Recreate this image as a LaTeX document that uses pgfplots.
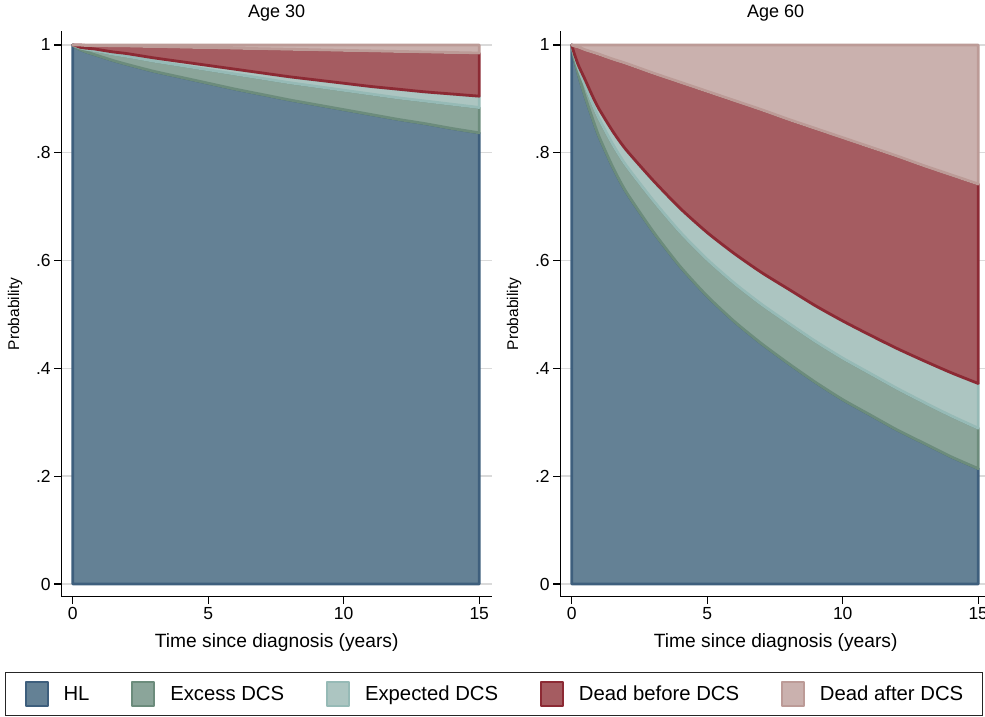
\documentclass[border=0pt]{standalone}
\usepackage{pgfplots}
\pgfplotsset{compat=1.18}
\usepackage{pgfplotstable}
\usepgfplotslibrary{fillbetween}
\usepackage{fontspec}
\setmainfont{Liberation Sans}

\definecolor{hlF}{RGB}{100,129,149}
\definecolor{hlL}{RGB}{62,95,125}
\definecolor{exF}{RGB}{139,165,154}
\definecolor{exL}{RGB}{108,140,124}
\definecolor{epF}{RGB}{172,197,193}
\definecolor{epL}{RGB}{150,186,182}
\definecolor{dbF}{RGB}{165,92,97}
\definecolor{dbL}{RGB}{140,42,52}
\definecolor{daF}{RGB}{202,177,174}
\definecolor{daL}{RGB}{188,155,151}
\definecolor{gridc}{RGB}{218,218,218}

\pgfplotstableread{
t b0 b1 b2 b3 b4 b5
0 0 1 1 1 1 1
0.1 0 .996 .998 .999 1.000 1
0.25 0 .992 .995 .996 1.000 1
0.5 0 .987 .992 .994 .999 1
0.75 0 .983 .990 .993 .999 1
1 0 .979 .988 .991 .999 1
1.5 0 .971 .983 .987 .998 1
2 0 .964 .979 .984 .998 1
3 0 .951 .970 .976 .997 1
4 0 .940 .962 .969 .996 1
5 0 .929 .954 .962 .995 1
6 0 .918 .946 .955 .994 1
7 0 .908 .938 .948 .993 1
8 0 .898 .930 .941 .992 1
9 0 .889 .923 .935 .991 1
10 0 .880 .916 .929 .990 1
11 0 .871 .909 .923 .989 1
12 0 .862 .902 .918 .988 1
13 0 .854 .896 .913 .987 1
14 0 .845 .890 .909 .986 1
15 0 .837 .884 .905 .985 1
}\ageA

\pgfplotstableread{
t b0 b1 b2 b3 b4 b5
0 0 1 1 1 1 1
0.1 0 .973 .980 .983 .998 1
0.25 0 .944 .956 .962 .996 1
0.5 0 .903 .924 .935 .991 1
0.75 0 .866 .893 .907 .987 1
1 0 .831 .864 .882 .983 1
1.5 0 .775 .817 .841 .974 1
2 0 .728 .777 .806 .966 1
3 0 .654 .712 .749 .948 1
4 0 .589 .653 .697 .931 1
5 0 .534 .602 .652 .914 1
6 0 .487 .558 .613 .897 1
7 0 .446 .519 .578 .880 1
8 0 .409 .484 .547 .862 1
9 0 .374 .450 .516 .845 1
10 0 .342 .419 .488 .828 1
11 0 .314 .391 .462 .811 1
12 0 .286 .363 .437 .794 1
13 0 .261 .337 .414 .776 1
14 0 .236 .312 .392 .759 1
15 0 .214 .289 .372 .742 1
}\ageB

\pgfplotsset{
  stataax/.style={
    scale only axis, width=430pt, height=565.2pt,
    xmin=-0.406, xmax=15.46, ymin=-0.0236, ymax=1.025,
    axis x line*=bottom, axis y line*=left,
    axis line style={line width=1.2pt, black, -},
    xtick={0,5,10,15}, xticklabels={0,5,10,15},
    ytick={0,0.2,0.4,0.6,0.8,1}, yticklabels={0,.2,.4,.6,.8,1},
    tick align=outside, major tick length=7.5pt,
    tick style={line width=1.2pt, black},
    ymajorgrids, grid style={line width=1.4pt, color=gridc},
    ticklabel style={font=\fontsize{17.5}{20}\selectfont},
    xlabel={Time since diagnosis (years)}, ylabel={Probability},
    xlabel style={at={(axis description cs:0.5,-0.0904)}, anchor=base, font=\fontsize{19.2}{22}\selectfont},
    ylabel style={at={(axis description cs:-0.1086,0.5)}, anchor=center, font=\fontsize{15.5}{18}\selectfont},
    title style={at={(axis description cs:0.5,1.015)}, anchor=base, font=\fontsize{18}{21}\selectfont},
  },
  band/.style 2 args={fill=#1, draw=#2, line width=2.8pt, line join=round},
  bd/.style={draw=none, forget plot, smooth, tension=0.4},
}
\newcommand{\lgs}{\rule[-4.3pt]{0pt}{18.9pt}}

\begin{document}
\begin{tikzpicture}
\begin{axis}[stataax, at={(61.7pt,120.3pt)}, anchor=south west, title={Age 30},
  legend columns=5,
  legend image code/.code={\draw[#1, line width=1.8pt] (1pt,-12pt) rectangle (23pt,12pt);},
  legend style={at={(axis description cs:1.00535,-0.17215)}, anchor=center,
    draw=black!85, line width=1pt, inner xsep=19pt, inner ysep=8.5pt,
    font=\fontsize{20.3}{24}\selectfont,
    nodes={inner sep=0pt},
    /tikz/every odd column/.append style={column sep=15pt},
    /tikz/every even column/.append style={column sep=42pt}},
  legend cell align=left]
\addlegendimage{band={hlF}{hlL}}\addlegendentry{\lgs HL}
\addlegendimage{band={exF}{exL}}\addlegendentry{\lgs Excess DCS}
\addlegendimage{band={epF}{epL}}\addlegendentry{\lgs Expected DCS}
\addlegendimage{band={dbF}{dbL}}\addlegendentry{\lgs Dead before DCS}
\addlegendimage{band={daF}{daL}}\addlegendentry{\lgs Dead after DCS}
\addplot[name path=a0, bd] table[x=t,y=b0]{\ageA};
\addplot[name path=a1, bd] table[x=t,y=b1]{\ageA};
\addplot[name path=a2, bd] table[x=t,y=b2]{\ageA};
\addplot[name path=a3, bd] table[x=t,y=b3]{\ageA};
\addplot[name path=a4, bd] table[x=t,y=b4]{\ageA};
\addplot[name path=a5, bd] table[x=t,y=b5]{\ageA};
\addplot[band={hlF}{hlL}] fill between[of=a0 and a1];
\addplot[band={exF}{exL}] fill between[of=a1 and a2];
\addplot[band={epF}{epL}] fill between[of=a2 and a3];
\addplot[band={dbF}{dbL}] fill between[of=a3 and a4];
\addplot[band={daF}{daL}] fill between[of=a4 and a5];
\end{axis}
\begin{axis}[stataax, at={(560.7pt,120.3pt)}, anchor=south west, title={Age 60}]
\addplot[name path=c0, bd] table[x=t,y=b0]{\ageB};
\addplot[name path=c1, bd] table[x=t,y=b1]{\ageB};
\addplot[name path=c2, bd] table[x=t,y=b2]{\ageB};
\addplot[name path=c3, bd] table[x=t,y=b3]{\ageB};
\addplot[name path=c4, bd] table[x=t,y=b4]{\ageB};
\addplot[name path=c5, bd] table[x=t,y=b5]{\ageB};
\addplot[band={hlF}{hlL}] fill between[of=c0 and c1];
\addplot[band={exF}{exL}] fill between[of=c1 and c2];
\addplot[band={epF}{epL}] fill between[of=c2 and c3];
\addplot[band={dbF}{dbL}] fill between[of=c3 and c4];
\addplot[band={daF}{daL}] fill between[of=c4 and c5];
\end{axis}
\pgfresetboundingbox
\useasboundingbox (0pt,0pt) rectangle (985pt,717pt);
\end{tikzpicture}
\end{document}
